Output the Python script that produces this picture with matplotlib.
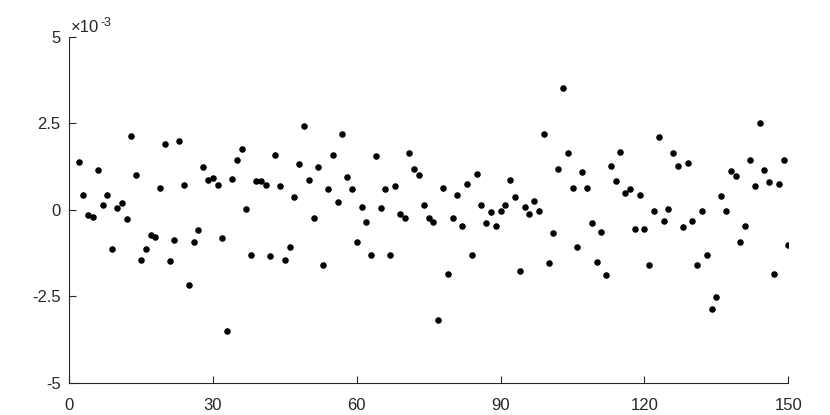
import numpy as np
import matplotlib
matplotlib.use('Agg')
import matplotlib.pyplot as plt

plt.rcParams['font.family'] = ['Liberation Sans', 'DejaVu Sans']

# sample index (the series starts at 2)
idx = np.arange(2, 151)

# values in units of 1e-3
vals = [
    1.39, 0.44, -0.14, -0.22, 1.15, 0.125, 0.44, -1.13, 0.05, 0.21,
    -0.26, 2.14, 1.00, -1.45, -1.13, -0.74, -0.78, 0.64, 1.91, -1.49,
    -0.86, 1.99, 0.72, -2.16, -0.93, -0.59, 1.23, 0.875, 0.92, 0.72,
    -0.82, -3.51, 0.885, 1.43, 1.75, 0.01, -1.29,
    0.84, 0.84, 0.72, -1.34, 1.59, 0.68, -1.45, -1.06, 0.37, 1.31,
    2.42, 0.875, -0.23, 1.23, -1.58, 0.61, 1.59, 0.24, 2.18, 0.95,
    0.61, -0.94, 0.09, -0.35, -1.30, 1.55, 0.05, 0.61, -1.30, 0.68,
    -0.12, -0.23, 1.63, 1.19, 1.00, 0.125, -0.23,
    -0.35, -3.19, 0.64, -1.86, -0.23, 0.44, -0.46, 0.76, -1.30, 1.04,
    0.125, -0.38, -0.07, -0.46, -0.03, 0.125, 0.875, 0.37, -1.78, 0.09,
    -0.11, 0.25, -0.03, 2.18, -1.54, -0.66, 1.19, 3.53, 1.63, 0.64,
    -1.06, 1.08, 0.64, -0.38, -1.50, -0.63, -1.89, 1.27,
    0.84, 1.67, 0.48, 0.61, -0.55, 0.44, -0.55, -1.58, -0.04, 2.11,
    -0.31, 0.01, 1.63, 1.27, -0.51, 1.36, -0.31, -1.58, -0.04, -1.30,
    -2.85, -2.53, 0.40, -0.04, 1.12, 0.99, -0.94, -0.46, 1.43, 0.68,
    2.50, 1.15, 0.80, -1.86, 0.76, 1.43, -1.02,
]

xticks = [0, 30, 60, 90, 120, 150]
yticks = [-5, -2.5, 0, 2.5, 5]
ytick_labels = ['-5', '-2.5', '0', '2.5', '5']

fig = plt.figure(figsize=(8.3, 4.15), dpi=100)
ax = fig.add_axes([0.0831, 0.0771, 0.8667, 0.8346])

ax.plot(idx, vals, linestyle='none', marker='o', ms=3.7, color='black', mec='black')

ax.set_xlim(0, 150)
ax.set_ylim(-5, 5)
ax.set_xticks(xticks)
ax.set_xticklabels([str(t) for t in xticks])
ax.set_yticks(yticks)
ax.set_yticklabels(ytick_labels)

axis_col = '#262626'
for s in ['top', 'right']:
    ax.spines[s].set_visible(False)
for s in ['left', 'bottom']:
    ax.spines[s].set_color(axis_col)
    ax.spines[s].set_linewidth(0.8)

ax.tick_params(axis='both', direction='in', length=5.2, width=0.8,
               color=axis_col, labelcolor=axis_col, labelsize=12)
ax.tick_params(axis='x', pad=11)
ax.tick_params(axis='y', pad=6)

# exponent label at the top of the y axis
ax.annotate('×10', xy=(0, 1), xycoords='axes fraction', xytext=(1, 3.3),
            textcoords='offset points', ha='left', va='baseline',
            fontsize=12, color=axis_col)
ax.annotate('-3', xy=(0, 1), xycoords='axes fraction', xytext=(22.8, 7.7),
            textcoords='offset points', ha='left', va='baseline',
            fontsize=9, color=axis_col)

fig.savefig('out.png', dpi=100)
